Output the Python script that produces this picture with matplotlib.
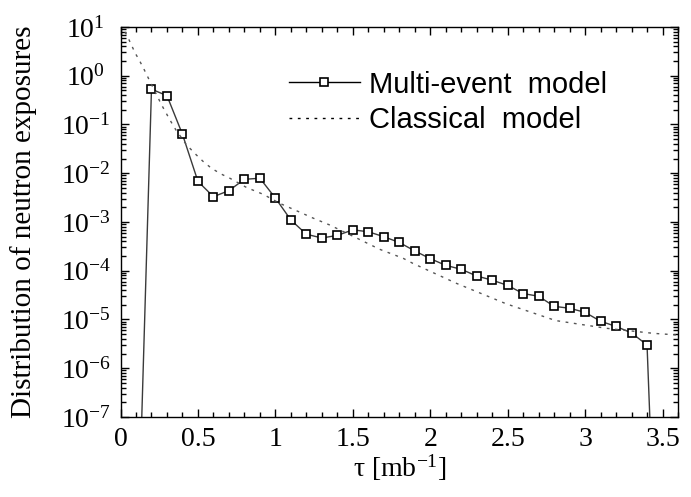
import numpy as np
import matplotlib
matplotlib.use('Agg')
import matplotlib.pyplot as plt
from matplotlib.ticker import LogLocator, MultipleLocator, NullFormatter

plt.rcParams['font.family'] = ['Liberation Serif', 'DejaVu Serif']
plt.rcParams['mathtext.fontset'] = 'custom'
plt.rcParams['mathtext.rm'] = 'Liberation Serif'
plt.rcParams['mathtext.it'] = 'Liberation Serif:italic'

# multi-event model (squares every 0.1 from 0.2 to 3.4)
tau_multi = [0.2, 0.3, 0.4, 0.5, 0.6, 0.7, 0.8, 0.9, 1.0, 1.1, 1.2, 1.3, 1.4,
             1.5, 1.6, 1.7, 1.8, 1.9, 2.0, 2.1, 2.2, 2.3, 2.4, 2.5, 2.6, 2.7,
             2.8, 2.9, 3.0, 3.1, 3.2, 3.3, 3.4]
dist_multi = [0.53, 0.39, 0.063, 0.0068, 0.0033, 0.0044, 0.0075, 0.0079,
              0.0031, 0.0011, 5.6e-4, 4.7e-4, 5.3e-4, 6.9e-4, 6.3e-4, 5.0e-4,
              3.8e-4, 2.55e-4, 1.77e-4, 1.29e-4, 1.07e-4, 7.8e-5, 6.4e-5,
              5.0e-5, 3.4e-5, 3.0e-5, 1.86e-5, 1.7e-5, 1.4e-5, 9.2e-6,
              7.2e-6, 5.3e-6, 3.0e-6]
# the curve drops off at both ends (no markers there)
tau_edge_lo = [0.128, 0.2]
dist_edge_lo = [1e-8, 0.53]
tau_edge_hi = [3.4, 3.43]
dist_edge_hi = [3.0e-6, 1e-8]

# classical model
tau_cls = [0.0, 0.04, 0.094, 0.126, 0.154, 0.234, 0.266, 0.319, 0.358, 0.427,
           0.49, 0.534, 0.588, 0.648, 0.706, 0.814, 0.921, 1.03, 1.137, 1.244,
           1.35, 1.524, 1.674, 1.825, 1.889, 2.17, 2.49, 2.81, 3.137, 3.44, 3.6]
dist_cls = [11.0, 6.9, 2.95, 1.95, 1.31, 0.40, 0.25, 0.124, 0.077, 0.038,
            0.0237, 0.0174, 0.0126, 0.0097, 0.0079, 0.0051, 0.0037, 0.0024,
            0.0017, 0.0012, 8.7e-4, 4.7e-4, 2.75e-4, 1.8e-4, 1.41e-4, 5.5e-5,
            2.1e-5, 9.5e-6, 6.6e-6, 5.2e-6, 4.8e-6]

xticks = [0, 0.5, 1, 1.5, 2, 2.5, 3, 3.5]
xtick_labels = ['0', '0.5', '1', '1.5', '2', '2.5', '3', '3.5']

fig = plt.figure(figsize=(6.91, 4.97), dpi=100)
ax = fig.add_axes([0.1744, 0.161, 0.8068, 0.7847])

line_col = '#3a3a3a'
ax.plot(tau_edge_lo, dist_edge_lo, color=line_col, lw=1.0)
ax.plot(tau_edge_hi, dist_edge_hi, color=line_col, lw=1.0)
ax.plot(tau_multi, dist_multi, color=line_col, lw=1.0, marker='s', ms=6.0,
        mfc='white', mec='black', mew=1.2, label='Multi-event  model')
ax.plot(tau_cls, dist_cls, color='#555555', lw=1.0, ls=(0, (2, 4)),
        label='Classical  model')

ax.set_yscale('log')
ax.set_xlim(0, 3.6)
ax.set_ylim(1e-7, 10)
ax.set_xticks(xticks)
ax.set_xticklabels(xtick_labels)
ax.xaxis.set_minor_locator(MultipleLocator(0.1))
ax.yaxis.set_major_locator(LogLocator(base=10, numticks=20))
ax.yaxis.set_minor_locator(LogLocator(base=10, subs=np.arange(2, 10), numticks=20))
ax.yaxis.set_minor_formatter(NullFormatter())

ax.tick_params(which='both', direction='in', top=True, right=True, width=1)
ax.tick_params(which='major', length=6)
ax.tick_params(which='minor', length=3.5)
ax.tick_params(axis='x', labelsize=20, pad=7.5)
ax.tick_params(axis='y', labelsize=20, pad=25)
for lab in ax.get_yticklabels():
    lab.set_horizontalalignment('center')
for sp in ax.spines.values():
    sp.set_linewidth(1.0)

ax.set_xlabel(r'τ [mb$^{\mathdefault{-1}}$]', fontsize=20, labelpad=0)
ax.set_ylabel('Distribution of neutron exposures', fontsize=21)
ax.yaxis.set_label_coords(-0.15, 0.5)

leg = ax.legend(loc='center left', bbox_to_anchor=(0.302, 0.807), frameon=False,
                prop={'family': 'Liberation Sans', 'size': 21},
                handlelength=2.43, handletextpad=0.3, labelspacing=0.25,
                numpoints=1, borderaxespad=0, borderpad=0)
for h in leg.legend_handles:
    h.set_color('black')

fig.savefig('out.png', dpi=100)
